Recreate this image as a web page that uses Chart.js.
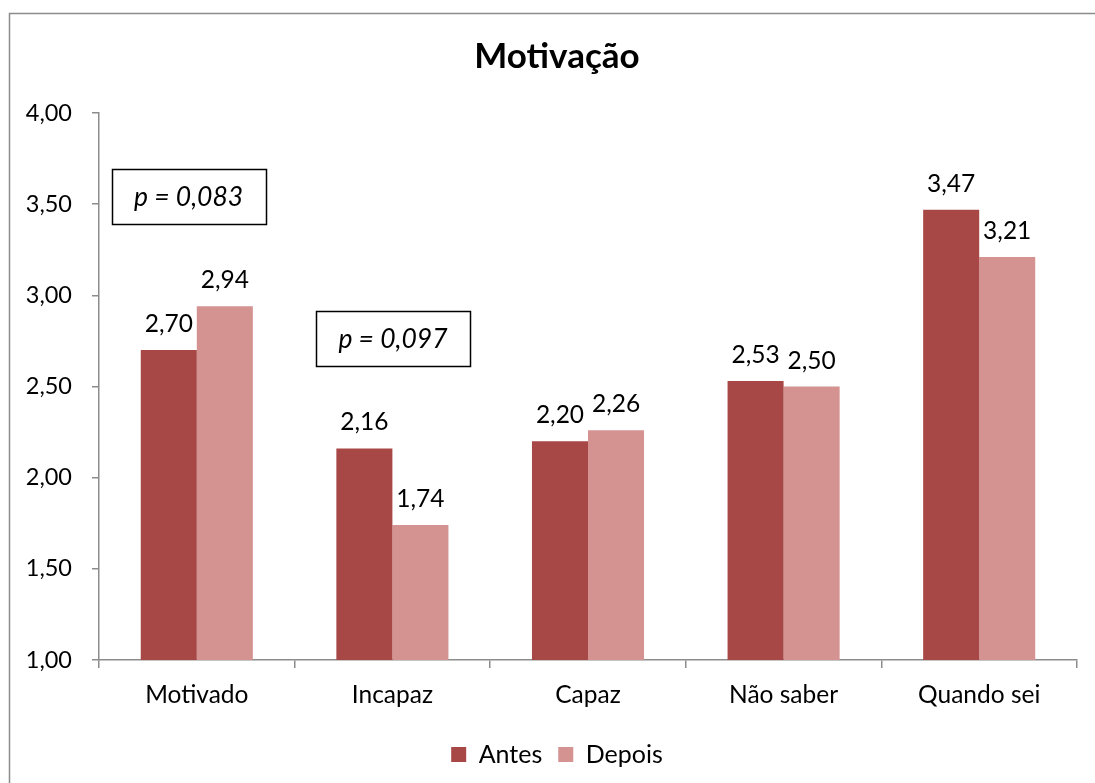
<!DOCTYPE html>
<html>
<head>
<meta charset="utf-8">
<script src="https://cdn.jsdelivr.net/npm/chart.js@4/dist/chart.umd.min.js"></script>
<style>
  html, body { margin: 0; padding: 0; background: #fff; }
  #wrap { width: 1095px; height: 783px; }
</style>
</head>
<body>
<div id="wrap"><canvas id="motivChart" width="1095" height="783"></canvas></div>
<script>
// dados
const categorias = ['Motivado', 'Incapaz', 'Capaz', 'Não saber', 'Quando sei'];
const antes = [2.70, 2.16, 2.20, 2.53, 3.47];
const depois = [2.94, 1.74, 2.26, 2.50, 3.21];
const yTicks = [1.0, 1.5, 2.0, 2.5, 3.0, 3.5, 4.0];
const pValues = ['p = 0,083', 'p = 0,097'];
const pPos = [[-0.042, 3.542], [1.003, 2.763]]; // [índice categoria, valor y]

const FONT = 'Lato, "Noto Sans", sans-serif';
const fmt = v => v.toFixed(2).replace('.', ',');

// moldura cinza + rótulos + caixas com p
const extras = {
  id: 'extras',
  beforeDraw(chart) {
    const c = chart.ctx;
    c.save();
    c.strokeStyle = '#8c8c8c';
    c.lineWidth = 1.5;
    c.strokeRect(9.5, 13.5, 1200, 900);
    c.restore();
  },
  afterDatasetsDraw(chart) {
    const c = chart.ctx;
    c.save();
    c.fillStyle = '#000';
    c.font = '24.5px ' + FONT;
    c.textAlign = 'center';
    c.textBaseline = 'alphabetic';
    chart.data.datasets.forEach((ds, i) => {
      chart.getDatasetMeta(i).data.forEach((bar, j) => {
        c.fillText(fmt(ds.data[j]), bar.x, bar.y - 18);
      });
    });
    // caixas de significância
    const xs = chart.scales.x, ys = chart.scales.y;
    pValues.forEach((txt, k) => {
      const cx = xs.getPixelForValue(pPos[k][0]);
      const cy = ys.getPixelForValue(pPos[k][1]);
      const w = 154, h = 55;
      c.lineWidth = 1.5;
      c.strokeStyle = '#000';
      c.strokeRect(Math.round(cx - w / 2) + 0.5, Math.round(cy - h / 2) + 0.5, w, h);
      c.font = 'italic 26.5px ' + FONT;
      c.textBaseline = 'middle';
      c.fillText(txt, cx, cy + 1);
    });
    c.restore();
  }
};

const ctx = document.getElementById('motivChart').getContext('2d');
const motivChart = new Chart(ctx, {
  type: 'bar',
  data: {
    labels: categorias,
    datasets: [
      { label: 'Antes', data: antes, backgroundColor: '#A84846' },
      { label: 'Depois', data: depois, backgroundColor: '#D49391' }
    ]
  },
  options: {
    responsive: false,
    animation: false,
    datasets: { bar: { categoryPercentage: 0.573, barPercentage: 1.0 } },
    layout: { padding: { left: 19, right: 0, top: 0, bottom: 6 } },
    plugins: {
      title: {
        display: true,
        text: 'Motivação',
        color: '#000',
        font: { family: FONT, size: 35, weight: 'bold' },
        padding: { top: 36, bottom: 35 }
      },
      legend: {
        display: true,
        position: 'bottom',
        labels: {
          color: '#000',
          font: { family: FONT, size: 25 },
          boxWidth: 15,
          boxHeight: 15,
          padding: 16
        }
      },
      tooltip: { enabled: false }
    },
    scales: {
      x: {
        grid: { drawOnChartArea: false, drawTicks: true, tickLength: 8, color: '#8c8c8c', lineWidth: 1.5 },
        border: { color: '#8c8c8c', width: 1.5 },
        ticks: { color: '#000', font: { family: FONT, size: 24.5 }, padding: 12 },
        afterFit: scale => { scale.height = 66; }
      },
      y: {
        min: 1,
        max: 4,
        afterBuildTicks: scale => { scale.ticks = yTicks.map(v => ({ value: v })); },
        grid: { drawOnChartArea: false, drawTicks: true, tickLength: 7, color: '#8c8c8c', lineWidth: 1.5 },
        border: { color: '#8c8c8c', width: 1.5 },
        ticks: { color: '#000', font: { family: FONT, size: 23.5 }, padding: 20, callback: v => fmt(v) },
        afterFit: scale => { scale.width = 80; }
      },
      // eixo vazio só para reservar a margem direita
      yR: {
        position: 'right',
        min: 1,
        max: 4,
        grid: { display: false },
        border: { display: false },
        ticks: { display: false },
        afterFit: scale => { scale.width = 18; }
      }
    }
  },
  plugins: [extras]
});
</script>
</body>
</html>
